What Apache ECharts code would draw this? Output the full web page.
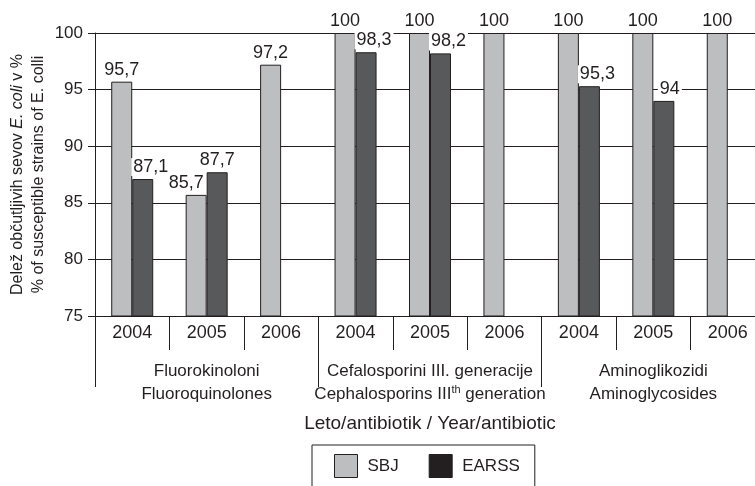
<!DOCTYPE html>
<html>
<head>
<meta charset="utf-8">
<script src="https://cdn.jsdelivr.net/npm/echarts@6/dist/echarts.min.js"></script>
<style>
  html, body { margin: 0; padding: 0; background: #fff; }
  #chart { width: 755px; height: 486px; }
</style>
</head>
<body>
<div id="chart"></div>
<script>
// categories and values
var years = ['2004', '2005', '2006', '2004', '2005', '2006', '2004', '2005', '2006'];
var groups = [
  'Fluorokinoloni\nFluoroquinolones',
  'Cefalosporini III. generacije\nCephalosporins III{sup|th} generation',
  'Aminoglikozidi\nAminoglycosides'
];
var sbj = [95.7, 85.7, 97.2, 100, 100, 100, 100, 100, 100];
var earss = [87.1, 87.7, null, 98.3, 98.2, null, 95.3, 94, null];
var yTicks = [75, 80, 85, 90, 95, 100];

// value labels were nudged sideways in the original to avoid overlaps
var sbjLabelShift = [0, -10, 0, 0, 0, 0, 0, 0, 0];
var earssLabelShift = [8, 0, 0, 8, 8, 0, 8, 6, 0];

var font = 'Liberation Sans, Arial, sans-serif';
var ink = '#231f20';

var chart = echarts.init(document.getElementById('chart'));

var valueLabel = {
  show: true,
  position: 'top',
  distance: 3,
  color: ink,
  fontFamily: font,
  fontSize: 18,
  backgroundColor: '#fff',
  padding: [0, 2],
  formatter: function (p) { return String(p.value).replace('.', ','); }
};

function withShift(values, shifts) {
  return values.map(function (v, i) {
    return { value: v, label: { offset: [shifts[i], 0] } };
  });
}

chart.setOption({
  animation: false,
  textStyle: { fontFamily: font },
  grid: { left: 95, top: 33, width: 670, bottom: 170, containLabel: false, outerBoundsMode: 'none' },
  legend: {
    top: 445,
    left: 312,
    orient: 'horizontal',
    icon: 'rect',
    itemWidth: 23,
    itemHeight: 23,
    itemGap: 30,
    padding: [9, 15, 9, 22],
    borderColor: ink,
    borderWidth: 1,
    textStyle: { color: ink, fontSize: 17, fontFamily: font, padding: [0, 0, 0, 5] },
    data: [
      { name: 'SBJ', itemStyle: { color: '#bcbec0', borderColor: ink, borderWidth: 1 } },
      { name: 'EARSS', itemStyle: { color: '#231f20', borderColor: ink, borderWidth: 1 } }
    ]
  },
  xAxis: [
    {
      type: 'category',
      data: years,
      position: 'bottom',
      axisLine: { lineStyle: { color: ink, width: 1 } },
      axisTick: { show: true, interval: 0, length: 34, lineStyle: { color: ink } },
      axisLabel: { interval: 0, color: ink, fontSize: 18, margin: 8 }
    },
    {
      type: 'category',
      data: groups,
      position: 'bottom',
      axisLine: { show: false },
      axisTick: { show: true, interval: 0, length: 71, lineStyle: { color: ink } },
      axisLabel: {
        interval: 0,
        color: ink,
        fontSize: 17,
        lineHeight: 23,
        margin: 44,
        rich: {
          sup: { fontSize: 11, padding: [0, 0, 9, 0], color: ink }
        }
      },
      name: 'Leto/antibiotik / Year/antibiotic',
      nameLocation: 'middle',
      nameGap: 98,
      nameMoveOverlap: false,
      nameTextStyle: { color: ink, fontSize: 19 }
    }
  ],
  yAxis: {
    type: 'value',
    min: yTicks[0],
    max: yTicks[yTicks.length - 1],
    interval: 5,
    axisLine: { show: true, lineStyle: { color: ink, width: 1 } },
    axisTick: { show: true, length: 7, lineStyle: { color: ink } },
    axisLabel: { color: ink, fontSize: 17, margin: 12 },
    splitLine: { show: true, lineStyle: { color: ink, width: 1 } },
    name: 'Delež občutljivih sevov {i|E. coli} v %\n% of susceptible strains of E. colli',
    nameLocation: 'middle',
    nameRotate: 90,
    nameGap: 46,
    nameMoveOverlap: false,
    nameTextStyle: {
      color: ink,
      fontSize: 16,
      lineHeight: 21,
      rich: { i: { fontStyle: 'italic', fontSize: 16, color: ink } }
    }
  },
  series: [
    {
      name: 'SBJ',
      type: 'bar',
      data: withShift(sbj, sbjLabelShift),
      barWidth: 21,
      barGap: '0%',
      itemStyle: { color: '#bcbec0', borderColor: ink, borderWidth: 1 },
      label: valueLabel
    },
    {
      name: 'EARSS',
      type: 'bar',
      data: withShift(earss, earssLabelShift),
      barWidth: 21,
      itemStyle: { color: '#58595b', borderColor: ink, borderWidth: 1 },
      label: valueLabel
    }
  ]
});
</script>
</body>
</html>
